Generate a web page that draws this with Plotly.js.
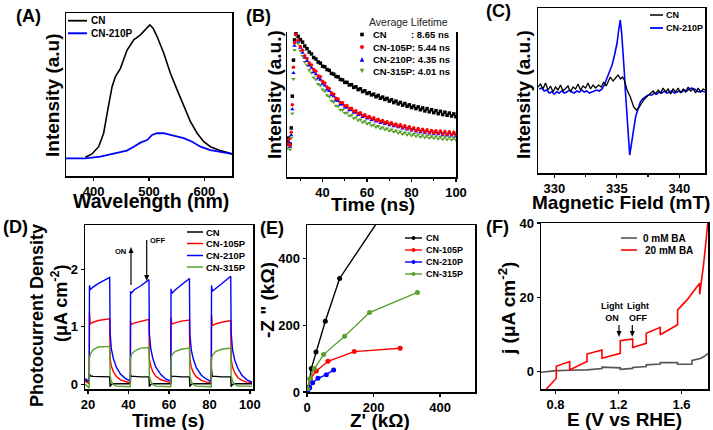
<!DOCTYPE html>
<html><head><meta charset="utf-8">
<script src="https://cdn.plot.ly/plotly-3.0.1.min.js"></script>
<style>html,body{margin:0;padding:0;background:#fff}#p{width:713px;height:430px}</style>
</head><body><div id="p"></div>
<script>
// ---------- (A) PL spectra ----------
const aWlCN   = [385,397,409,418,425.5,433.3,439.3,448.4,460.4,472.5,484.5,496.6,501.4,507.4,514.6,526.7,538.7,550.8,562.8,574.9,587,599,611,629,650];
const aIntCN  = [0.124,0.146,0.194,0.283,0.437,0.591,0.658,0.713,0.834,0.901,0.934,0.978,1.0,0.978,0.923,0.813,0.68,0.57,0.459,0.36,0.283,0.227,0.194,0.168,0.146];
const aWl210  = [350,385,412,436,460,472.5,484.5,496.6,505.6,514.6,526.7,538.7,562.8,578,593,611,629,650];
const aInt210 = [0.117,0.117,0.128,0.146,0.168,0.194,0.221,0.238,0.272,0.283,0.283,0.272,0.25,0.227,0.194,0.172,0.161,0.146];

// ---------- (B) TRPL decay ----------
const bTime = [24.2,24.8,25.4,25.9,26.4,26.9,27.4,28,29,30,31,32,33,34,35,36,37,38,39,40,41,42,43,44,45,46,47,48,49,50,51,52,53,54,55,56,57,58,59,60,61,62,63,64,65,66,67,68,69,70,71,72,73,74,75,76,77,78,79,80,81,82,83,84,85,86,87,88,89,90,91,92,93,94,95,96,97,98,99,100];
const bCN = [0.25,0.27,0.23,0.34,0.56,0.81,0.95,1.0,
 0.975,0.952,0.935,0.908,0.889,0.866,0.853,0.828,0.818,0.797,0.789,0.768,
 0.764,0.745,0.739,0.718,0.713,0.697,0.694,0.676,0.673,0.656,
 0.656,0.638,0.64,0.621,0.625,0.606,0.611,0.592,0.598,0.579,
 0.585,0.569,0.574,0.556,0.565,0.546,0.554,0.537,0.545,0.526,
 0.535,0.516,0.526,0.507,0.517,0.498,0.509,0.49,0.5,0.481,
 0.492,0.474,0.486,0.466,0.479,0.458,0.474,0.452,0.466,0.446,
 0.46,0.439,0.455,0.433,0.449,0.428,0.443,0.423,0.437,0.418];
const b105 = [0.23,0.26,0.22,0.31,0.5,0.76,0.93,0.99,
 0.948,0.905,0.878,0.84,0.822,0.79,0.777,0.745,0.733,0.702,0.694,0.664,
 0.652,0.623,0.613,0.582,0.574,0.545,0.541,0.516,0.515,0.493,
 0.494,0.474,0.477,0.456,0.46,0.44,0.445,0.426,0.432,0.414,
 0.42,0.403,0.41,0.393,0.4,0.384,0.392,0.376,0.383,0.367,
 0.376,0.36,0.368,0.352,0.362,0.344,0.355,0.336,0.348,0.33,
 0.342,0.323,0.336,0.318,0.331,0.313,0.327,0.309,0.323,0.306,
 0.321,0.303,0.318,0.3,0.315,0.297,0.313,0.295,0.31,0.294];
const b210 = [0.22,0.24,0.21,0.29,0.47,0.72,0.91,0.99,
 0.94,0.895,0.862,0.826,0.804,0.772,0.757,0.726,0.713,0.684,0.674,0.646,
 0.634,0.606,0.596,0.568,0.559,0.532,0.527,0.503,0.502,0.481,
 0.482,0.462,0.465,0.445,0.449,0.43,0.435,0.416,0.422,0.405,
 0.41,0.394,0.4,0.384,0.39,0.375,0.382,0.367,0.374,0.359,
 0.366,0.351,0.358,0.344,0.352,0.336,0.345,0.329,0.339,0.322,
 0.333,0.316,0.328,0.311,0.323,0.306,0.319,0.302,0.315,0.299,
 0.312,0.296,0.309,0.293,0.306,0.29,0.303,0.288,0.3,0.286];
const b315 = [0.2,0.23,0.19,0.27,0.44,0.68,0.88,0.98,
 0.925,0.875,0.838,0.797,0.774,0.74,0.722,0.69,0.675,0.645,0.634,0.606,
 0.594,0.566,0.556,0.528,0.52,0.494,0.49,0.466,0.465,0.443,
 0.446,0.424,0.428,0.408,0.413,0.393,0.399,0.38,0.386,0.369,
 0.374,0.357,0.363,0.347,0.354,0.337,0.345,0.329,0.337,0.321,
 0.329,0.313,0.321,0.305,0.315,0.298,0.309,0.292,0.304,0.287,
 0.298,0.282,0.294,0.278,0.29,0.274,0.286,0.271,0.283,0.268,
 0.28,0.265,0.277,0.262,0.275,0.26,0.273,0.258,0.27,0.256];
const bLifetimes = ['8.65','5.44','4.35','4.01'];

// ---------- (C) EPR ----------
const cField210 = [328.8,329.0,329.2,329.4,329.6,329.8,330.0,330.2,330.4,330.6,330.8,331.0,331.2,331.4,331.6,331.8,332.0,332.2,332.4,332.6,332.8,333.0,333.2,333.4,333.6,333.82,334.0,334.22,334.42,334.62,334.82,335.02,335.15,335.28,335.4,335.5,335.6,335.68,335.78,335.87,335.95,336.03,336.12,336.22,336.31,336.4,336.5,336.62,336.75,336.88,337.05,337.28,337.5,337.82,338.0,338.2,338.4,338.6,338.8,339.0,339.2,339.4,339.6,339.8,340.0,340.2,340.4,340.6,340.8,341.0,341.2,341.4,341.6,341.8,342.05];
const cSig210   = [1,2,-1,0,-3,-2,-4,-2,-3,-1,-3,-2,0,-2,-3,-1,-2,0,-2,-1,-3,-2,-1,0,-1,1,5,12,18,25,35,47,60,70,55,40,18,0,-22,-43,-57,-65,-58,-50,-41,-33,-27,-22,-16,-12,-9,-7,-5,-5,-3,-4,-2,-3,-1,-3,-2,-1,-3,-2,-1,-2,0,-1,1,2,1,-1,-2,-1,-2];
const cFieldCN  = [328.7,328.9,329.1,329.3,329.5,329.7,329.9,330.1,330.3,330.5,330.7,330.9,331.1,331.3,331.5,331.7,331.9,332.1,332.3,332.5,332.7,332.9,333.1,333.3,333.55,333.75,333.95,334.15,334.3,334.48,334.7,334.9,335.1,335.3,335.45,335.6,335.82,336.08,336.22,336.35,336.56,336.75,336.9,337.02,337.15,337.28,337.45,337.68,337.9,338.1,338.3,338.5,338.7,338.9,339.1,339.3,339.5,339.7,339.9,340.1,340.3,340.5,340.7,340.9,341.1,341.3,341.5,341.7,341.9,342.05];
const cSigCN    = [3,6,1,7,0,4,-2,3,0,5,-1,2,4,-2,3,1,6,0,4,2,7,1,5,2,5,3,8,4,9,13,9,12,15,11,13,10,0,-7,-12,-17,-20,-18,-15,-12,-10,-8,-6,-4,-1,-4,0,-3,2,-2,1,-4,1,-2,2,-3,1,-2,3,-1,1,-3,2,-2,1,0];

// ---------- (D) Photocurrent ----------
const dTime = [18.6,20.6,20.7,21.1,22.5,25,30.7,30.9,31.5,32.5,34,36,38.5,
 40.9,41.0,41.4,43,46,50.1,50.3,51,52,53.5,56,58.5,
 60.9,61.0,61.4,63,66,70.1,70.3,71,72,73.5,76,78.5,
 80.9,81.0,81.4,83,86,90.5,90.7,91.4,92.5,94,96,98.5,101];
const dCN   = [0.08,0.01,0.18,0.15,0.14,0.14,0.13,-0.04,0.0,0.01,0.01,0.01,0.01,
 0.01,0.17,0.14,0.14,0.13,0.13,-0.04,0.0,0.01,0.01,0.01,0.01,
 0.01,0.16,0.14,0.14,0.13,0.13,-0.04,0.0,0.01,0.01,0.01,0.01,
 0.01,0.26,0.14,0.14,0.13,0.13,-0.04,0.0,0.01,0.01,0.01,0.01,0.01];
const d105  = [0.05,0.02,1.25,1.05,1.08,1.11,1.14,0.45,0.32,0.22,0.14,0.08,0.05,
 0.03,1.1,1.04,1.07,1.1,1.13,0.44,0.32,0.22,0.14,0.08,0.05,
 0.03,1.16,1.05,1.07,1.1,1.12,0.44,0.3,0.21,0.13,0.07,0.04,
 0.03,1.22,1.02,1.05,1.08,1.11,0.44,0.3,0.2,0.12,0.07,0.04,0.03];
const d210  = [0.1,0.05,1.72,1.65,1.69,1.75,1.86,0.9,0.62,0.45,0.3,0.18,0.1,
 0.06,1.62,1.59,1.65,1.71,1.82,0.88,0.62,0.45,0.3,0.17,0.09,
 0.06,1.66,1.58,1.64,1.72,1.84,0.88,0.6,0.44,0.29,0.16,0.09,
 0.05,1.72,1.62,1.66,1.75,1.88,0.9,0.6,0.42,0.28,0.16,0.08,0.04];
const d315  = [0.0,-0.06,0.45,0.52,0.6,0.65,0.66,0.15,0.05,0.0,-0.03,-0.03,-0.03,
 -0.04,0.45,0.52,0.58,0.63,0.64,0.15,0.05,0.0,-0.03,-0.03,-0.03,
 -0.04,0.45,0.51,0.57,0.61,0.63,0.15,0.05,0.0,-0.03,-0.03,-0.03,
 -0.04,0.44,0.5,0.57,0.61,0.63,0.15,0.05,0.0,-0.03,-0.03,-0.03,-0.03];

// ---------- (E) Nyquist ----------
const eReCN  = [2,5,13,27,55,98,300];
const eImCN  = [3,15,70,120,212,340,640];
const eRe105 = [2,10,28,63,142,280];
const eIm105 = [8,40,63,92,121,131];
const eRe210 = [2,8,17,33,58,80];
const eIm210 = [3,13,28,41,52,66];
const eRe315 = [2,8,22,50,113,188,332];
const eIm315 = [10,40,70,112,167,238,298];

// ---------- (F) LSV chopped ----------
const fE0  = [0.708,0.805,0.894,1.0,1.095,1.095,1.211,1.211,1.29,1.29,1.376,1.376,1.465,1.465,1.575,1.575,1.666,1.666,1.72,1.745,1.768];
const fJ0  = [-0.2,0.25,0.35,0.45,0.8,1.2,1.0,0.6,0.85,1.1,1.35,1.8,2.05,2.45,2.4,1.95,2.0,3.0,3.5,4.1,4.9];
const fE20 = [0.715,0.742,0.775,0.805,0.805,0.89,0.89,1.0,1.0,1.095,1.095,1.211,1.211,1.29,1.29,1.376,1.376,1.465,1.465,1.575,1.575,1.635,1.715,1.715,1.74,1.761,1.768];
const fJ20 = [-6.5,-4.7,-3.2,-1.8,1.4,2.7,0.45,2.7,4.7,5.8,3.6,4.9,8.3,8.8,6.5,7.6,10.3,11.9,9.9,12.6,16.6,19.3,23.8,20.8,28.8,36.8,40.5];

// ---------- styling ----------
const FONT = 'Liberation Sans, Arial, Helvetica, sans-serif';
const W = 713, H = 430;
const px = x => x / W, py = y => 1 - y / H;
const BLUE = '#0000ff', RED = '#ff0000', GREEN = '#5aa02c', BLACK = '#000000';

function axis(d0, d1, range, extra, vertical) {
  const dom = vertical ? [py(d1), py(d0)] : [px(d0), px(d1)];
  return Object.assign({
    domain: dom, range: range, showline: true, linecolor: '#000', linewidth: 1.5,
    mirror: true, showgrid: false, zeroline: false, ticks: 'outside', ticklen: 3,
    tickwidth: 1.2, tickcolor: '#000',
    tickfont: {family: FONT, size: 13, color: '#000', weight: 'bold'}
  }, extra || {});
}

const traces = [
  {x: aWlCN, y: aIntCN, xaxis: 'x', yaxis: 'y', mode: 'lines', line: {color: BLACK, width: 1.6}},
  {x: aWl210, y: aInt210, xaxis: 'x', yaxis: 'y', mode: 'lines', line: {color: BLUE, width: 1.8}},

  {x: bTime, y: bCN, xaxis: 'x2', yaxis: 'y2', mode: 'markers', marker: {symbol: 'square', size: 3.5, color: BLACK}},
  {x: bTime, y: b315, xaxis: 'x2', yaxis: 'y2', mode: 'markers', marker: {symbol: 'triangle-down', size: 4, color: GREEN}},
  {x: bTime, y: b210, xaxis: 'x2', yaxis: 'y2', mode: 'markers', marker: {symbol: 'triangle-up', size: 4, color: BLUE}},
  {x: bTime, y: b105, xaxis: 'x2', yaxis: 'y2', mode: 'markers', marker: {symbol: 'circle', size: 3.5, color: RED}},

  {x: cField210, y: cSig210, xaxis: 'x3', yaxis: 'y3', mode: 'lines', line: {color: BLUE, width: 1.6}},
  {x: cFieldCN, y: cSigCN, xaxis: 'x3', yaxis: 'y3', mode: 'lines', line: {color: BLACK, width: 1.3}},

  {x: dTime, y: dCN, xaxis: 'x4', yaxis: 'y4', mode: 'lines', line: {color: BLACK, width: 1.4}},
  {x: dTime, y: d105, xaxis: 'x4', yaxis: 'y4', mode: 'lines', line: {color: RED, width: 1.4}},
  {x: dTime, y: d210, xaxis: 'x4', yaxis: 'y4', mode: 'lines', line: {color: BLUE, width: 1.4}},
  {x: dTime, y: d315, xaxis: 'x4', yaxis: 'y4', mode: 'lines', line: {color: GREEN, width: 1.4}},

  {x: eReCN, y: eImCN, xaxis: 'x5', yaxis: 'y5', mode: 'lines+markers', line: {color: BLACK, width: 1.4}, marker: {size: 5, color: BLACK}},
  {x: eRe105, y: eIm105, xaxis: 'x5', yaxis: 'y5', mode: 'lines+markers', line: {color: RED, width: 1.4}, marker: {size: 5, color: RED}},
  {x: eRe210, y: eIm210, xaxis: 'x5', yaxis: 'y5', mode: 'lines+markers', line: {color: BLUE, width: 1.4}, marker: {size: 5, color: BLUE}},
  {x: eRe315, y: eIm315, xaxis: 'x5', yaxis: 'y5', mode: 'lines+markers', line: {color: GREEN, width: 1.4}, marker: {size: 5, color: GREEN}},

  {x: fE0, y: fJ0, xaxis: 'x6', yaxis: 'y6', mode: 'lines', line: {color: '#555555', width: 1.6}},
  {x: fE20, y: fJ20, xaxis: 'x6', yaxis: 'y6', mode: 'lines', line: {color: RED, width: 1.6}}
];

function T(text, x, y, size, o) {
  return Object.assign({text: text, x: px(x), y: py(y), xref: 'paper', yref: 'paper', showarrow: false,
    xanchor: 'center', yanchor: 'middle', font: {family: FONT, size: size, color: '#000', weight: 'bold'}}, o || {});
}
function Lg(text, x, y, size) { return T(text, x, y, size, {xanchor: 'left'}); }
function line(x0, x1, y, color, w) {
  return {type: 'line', xref: 'paper', yref: 'paper', x0: px(x0), x1: px(x1), y0: py(y), y1: py(y), line: {color: color, width: w || 1.8}};
}
// vertical arrow drawn with shapes: shaft from yTail to yHead, filled head at yHead
function varrow(x, yTail, yHead) {
  const s = yHead > yTail ? 1 : -1;
  const hb = yHead - s * 6;
  return [
    {type: 'line', xref: 'paper', yref: 'paper', x0: px(x), x1: px(x), y0: py(yTail), y1: py(hb), line: {color: '#000', width: 1.2}},
    {type: 'path', xref: 'paper', yref: 'paper', fillcolor: '#000', line: {width: 0},
     path: `M ${px(x)} ${py(yHead)} L ${px(x - 2.5)} ${py(hb)} L ${px(x + 2.5)} ${py(hb)} Z`}
  ];
}
function dot(cx, cy, r, color) {
  return {type: 'circle', xref: 'paper', yref: 'paper', x0: px(cx - r), x1: px(cx + r), y0: py(cy + r), y1: py(cy - r), fillcolor: color, line: {width: 0}};
}
function sq(cx, cy, r, color) {
  return {type: 'rect', xref: 'paper', yref: 'paper', x0: px(cx - r), x1: px(cx + r), y0: py(cy + r), y1: py(cy - r), fillcolor: color, line: {width: 0}};
}
function tri(cx, cy, r, color, down) {
  const s = down ? -1 : 1;
  const p = `M ${px(cx)} ${py(cy - s * r)} L ${px(cx - r)} ${py(cy + s * r)} L ${px(cx + r)} ${py(cy + s * r)} Z`;
  return {type: 'path', xref: 'paper', yref: 'paper', path: p, fillcolor: color, line: {width: 0}};
}

const annotations = [
  // panel labels
  T('(A)', 28, 16, 18), T('(B)', 258, 16, 18), T('(C)', 498, 11, 18),
  T('(D)', 15, 227, 18), T('(E)', 272, 228, 18), T('(F)', 497, 227, 18),
  // axis titles
  T('Wavelength (nm)', 151, 201, 19.5), T('Intensity (a.u)', 53, 95, 19, {textangle: -90}),
  T('Time (ns)', 373, 204, 19), T('Intensity (a.u.)', 275, 95, 19, {textangle: -90}),
  T('Magnetic Field (mT)', 621, 202, 19), T('Intensity (a.u.)', 524, 95, 19, {textangle: -90}),
  T('Time (s)', 168, 420, 19), T('Photocurrent Density', 37, 316, 18, {textangle: -90}),
  T('(μA cm<sup>-2</sup>)', 59, 303, 18, {textangle: -90}),
  T("Z' (kΩ)", 380, 420, 19), T('-Z " (kΩ)', 267, 300, 19, {textangle: -90}),
  T('E (V vs RHE)', 624, 419, 19), T('j (μA cm<sup>-2</sup>)', 507, 308, 19, {textangle: -90}),
  // legend A
  Lg('CN', 89, 20.5, 10), Lg('CN-210P', 89, 33.5, 10),
  // legend B
  T('Average Lifetime', 408, 22, 10.5, {font: {family: FONT, size: 10.5, color: '#222'}}),
  Lg('CN', 371, 34.5, 9.5), Lg(': ' + bLifetimes[0] + ' ns', 409, 34.5, 9.5),
  Lg('CN-105P: ' + bLifetimes[1] + ' ns', 371, 47, 9.5),
  Lg('CN-210P: ' + bLifetimes[2] + ' ns', 371, 59.5, 9.5),
  Lg('CN-315P: ' + bLifetimes[3] + ' ns', 371, 71, 9.5),
  // legend C
  Lg('CN', 664, 15, 9), Lg('CN-210P', 664, 28, 9),
  // legend D
  Lg('CN', 204, 232, 9.5), Lg('CN-105P', 204, 243.5, 9.5), Lg('CN-210P', 204, 255.5, 9.5), Lg('CN-315P', 204, 267, 9.5),
  T('ON', 120, 251, 7.5), T('OFF', 157, 240, 7.5),
  // legend E
  Lg('CN', 424, 238, 9), Lg('CN-105P', 424, 250, 9), Lg('CN-210P', 424, 262, 9), Lg('CN-315P', 424, 274, 9),
  // legend F
  Lg('0 mM BA', 641, 238, 10), Lg('20 mM BA', 643, 250, 10),
  T('Light<br>ON', 612, 312, 9), T('Light<br>OFF', 638, 312, 9)
];

const shapes = [
  line(68, 87, 20.7, BLACK, 1.8), line(68, 87, 33.3, BLUE, 2),
  sq(362, 34.5, 1.8, BLACK), dot(362, 47, 2, RED), tri(362, 59.5, 2.3, BLUE, false), tri(362, 71, 2.3, GREEN, true),
  line(650, 663, 15, BLACK, 1.5), line(650, 663, 28, BLUE, 1.8),
  line(187, 203, 232, BLACK, 1.5), line(187, 203, 243.5, RED, 1.5), line(187, 203, 255.5, BLUE, 1.5), line(187, 203, 267, GREEN, 1.5),
  line(405, 422, 238, BLACK, 1.4), dot(413.5, 238, 1.9, BLACK),
  line(405, 422, 250, RED, 1.4), dot(413.5, 250, 1.9, RED),
  line(405, 422, 262, BLUE, 1.4), dot(413.5, 262, 1.9, BLUE),
  line(405, 422, 274, GREEN, 1.4), dot(413.5, 274, 1.9, GREEN),
  line(621, 637, 238, '#555555', 1.6), line(621, 637, 250, RED, 1.6)
].concat(varrow(131, 285, 247), varrow(146.7, 240, 281), varrow(619, 325, 337), varrow(632.3, 325, 337));

const layout = {
  width: W, height: H, margin: {l: 0, r: 0, t: 0, b: 0}, paper_bgcolor: '#fff', plot_bgcolor: '#fff',
  showlegend: false, annotations: annotations, shapes: shapes,
  xaxis:  axis(66, 232, [350, 650], {anchor: 'y', tickvals: [400, 500, 600]}),
  yaxis:  axis(13, 176, [0, 1.079], {anchor: 'x', showticklabels: false, ticks: ''}, true),
  xaxis2: axis(287, 456, [24, 100], {anchor: 'y2', mirror: false, tickvals: [40, 60, 80, 100],
           minor: {tickvals: [30, 50, 70, 90], ticks: 'outside', ticklen: 2.5, tickcolor: '#000'}}),
  yaxis2: axis(32, 177, [0, 1.005], {anchor: 'x2', showticklabels: false, ticks: ''}, true),
  xaxis3: axis(538, 705, [328.7, 342.05], {anchor: 'y3', tickvals: [330, 335, 340],
           minor: {tickvals: [332.5, 337.5], ticks: 'outside', ticklen: 2.5, tickcolor: '#000'}}),
  yaxis3: axis(8, 173, [-83, 82], {anchor: 'x3', showticklabels: false, ticks: ''}, true),
  xaxis4: axis(85, 253, [18.5, 101.5], {anchor: 'y4', tickvals: [20, 40, 60, 80, 100]}),
  yaxis4: axis(225, 389, [-0.08, 2.77], {anchor: 'x4', tickvals: [0, 1, 2]}, true),
  xaxis5: axis(307, 475, [0, 505], {anchor: 'y5', tickvals: [0, 200, 400]}),
  yaxis5: axis(225, 392, [0, 500], {anchor: 'x5', tickvals: [0, 200, 400]}, true),
  xaxis6: axis(541, 708, [0.708, 1.768], {anchor: 'y6', tickvals: [0.8, 1.2, 1.6], tickformat: '.1f'}),
  yaxis6: axis(223, 389, [-4.7, 40], {anchor: 'x6', tickvals: [0, 20, 40]}, true)
};

Plotly.newPlot('p', traces, layout, {staticPlot: true, displayModeBar: false});
</script>
</body></html>
